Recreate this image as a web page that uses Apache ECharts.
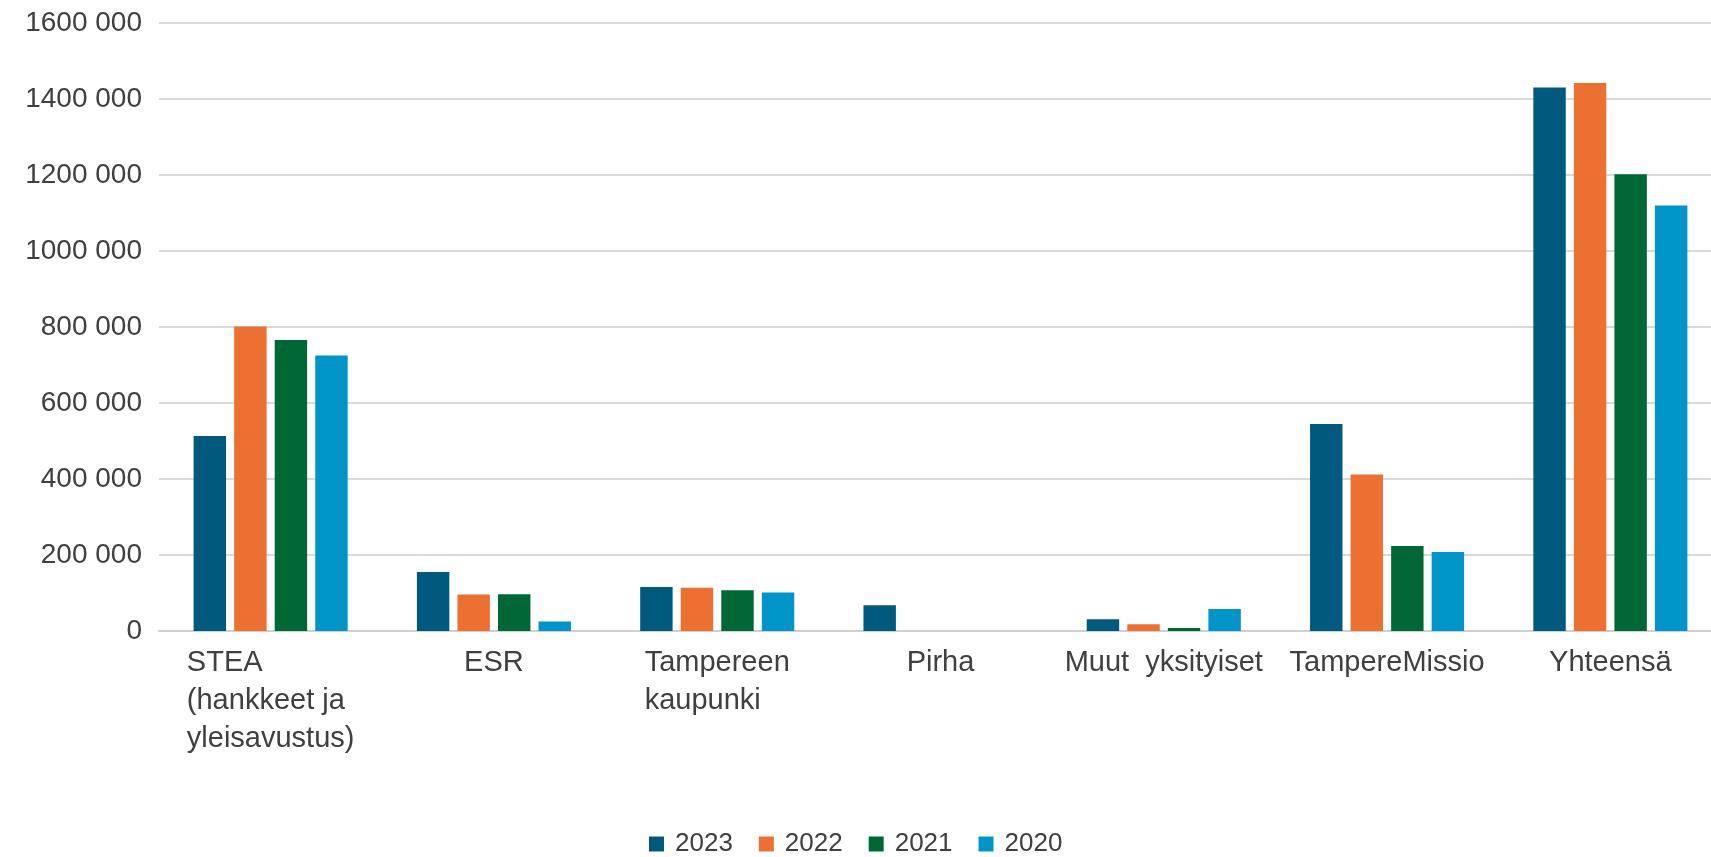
<!DOCTYPE html>
<html>
<head>
<meta charset="utf-8">
<script src="https://cdn.jsdelivr.net/npm/echarts@6/dist/echarts.min.js"></script>
<style>
html,body{margin:0;padding:0;background:#fff;overflow:hidden;width:1711px;height:857px;}
#chart{width:1722px;height:857px;}
</style>
</head>
<body>
<div id="chart"></div>
<script>
const categories = ['STEA\n(hankkeet ja\nyleisavustus)', 'ESR', 'Tampereen\nkaupunki', 'Pirha', 'Muut  yksityiset', 'TampereMissio', 'Yhteensä'];
const seriesNames = ['2023', '2022', '2021', '2020'];
const values2023 = [513000, 155000, 116000, 68000, 31000, 545000, 1430000];
const values2022 = [801000, 96000, 114000, 0, 18000, 412000, 1442000];
const values2021 = [766000, 97000, 107000, 0, 8000, 224000, 1202000];
const values2020 = [725000, 25000, 101000, 0, 58000, 208000, 1120000];
const yTicks = [0, 200000, 400000, 600000, 800000, 1000000, 1200000, 1400000, 1600000];
const yTickLabels = ['0', '200 000', '400 000', '600 000', '800 000', '1000 000', '1200 000', '1400 000', '1600 000'];

const colors = ['#005A7E', '#EC7032', '#006834', '#0095C8'];
const allValues = [values2023, values2022, values2021, values2020];

const chart = echarts.init(document.getElementById('chart'));
chart.setOption({
  animation: false,
  color: colors,
  textStyle: { fontFamily: 'Liberation Sans, Arial, sans-serif' },
  grid: { left: 159, right: 0, top: 23, bottom: 226, containLabel: false },
  legend: {
    data: seriesNames,
    top: 826,
    left: 850,
    itemWidth: 15,
    itemHeight: 15,
    itemGap: 26,
    icon: 'rect',
    textStyle: { fontSize: 26, color: '#404040', padding: [0, 0, 0, 6] }
  },
  xAxis: {
    type: 'category',
    data: categories,
    axisTick: { show: false },
    axisLine: { lineStyle: { color: '#d0d0d0', width: 2 } },
    axisLabel: {
      interval: 0,
      margin: 13,
      fontSize: 29,
      color: '#404040',
      lineHeight: 38,
      formatter: function (v) {
        return v.split('\n').map(function (s) { return '{l|' + s + '}'; }).join('\n');
      },
      rich: { l: { align: 'left', fontSize: 29, lineHeight: 38, color: '#404040' } }
    }
  },
  yAxis: {
    type: 'value',
    min: 0,
    max: 1600000,
    interval: 200000,
    axisLine: { show: false },
    axisTick: { show: false },
    splitLine: { lineStyle: { color: '#d9d9d9', width: 2 } },
    axisLabel: {
      margin: 17,
      fontSize: 28,
      color: '#404040',
      formatter: function (v) {
        const i = yTicks.indexOf(v);
        return i >= 0 ? yTickLabels[i] : '';
      }
    }
  },
  series: seriesNames.map(function (name, i) {
    return {
      name: name,
      type: 'bar',
      data: allValues[i],
      barGap: '25%',
      barCategoryGap: '31%',
      itemStyle: { color: colors[i] }
    };
  })
});
// center legend on the visible 1711px width
const legendModel = chart.getModel().getComponent('legend');
const lv = chart.getViewOfComponentModel(legendModel);
if (lv && lv.group) {
  const r = lv.group.getBoundingRect();
  chart.setOption({ legend: { left: Math.round(1711 / 2 - r.width / 2) } });
}
</script>
</body>
</html>
